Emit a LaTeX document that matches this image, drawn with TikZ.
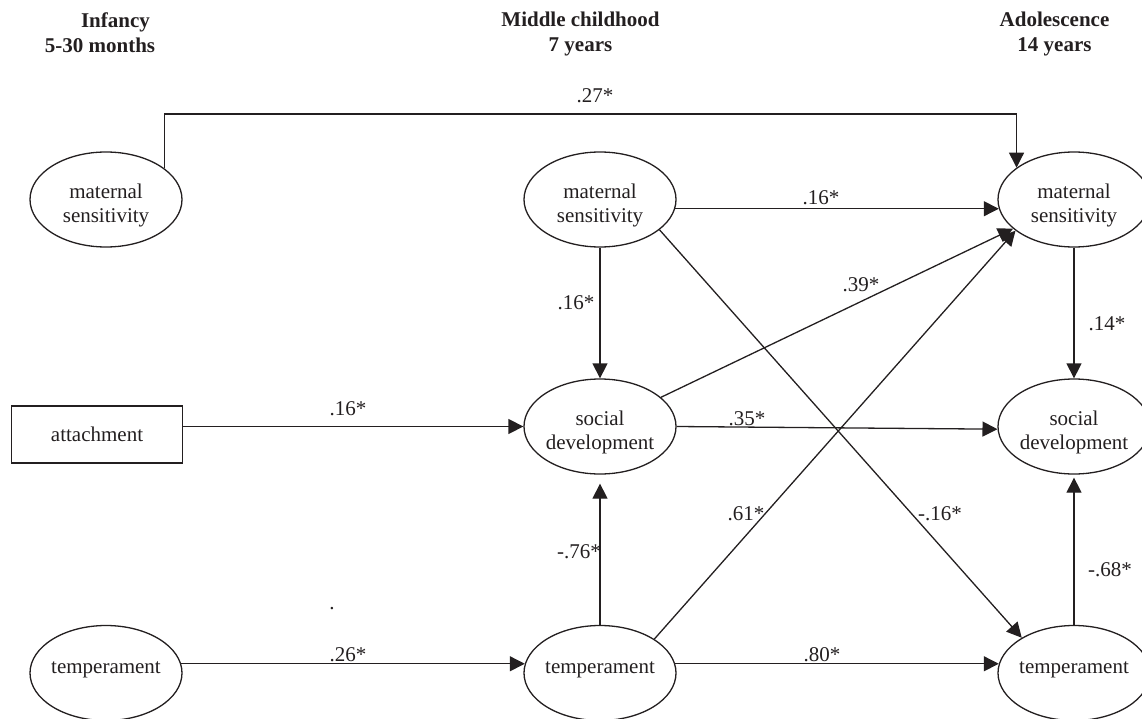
\documentclass[tikz,border=0pt]{standalone}
\usepackage{fontspec}
\setmainfont{Liberation Serif}
\usetikzlibrary{shapes.geometric,arrows.meta}
\definecolor{ink}{RGB}{35,31,32}
\begin{document}
\begin{tikzpicture}[x=1pt,y=-1pt,
  ell/.style={draw=ink, line width=1.3pt, ellipse, minimum width=152pt, minimum height=95pt, inner sep=0pt},
  rectbox/.style={draw=ink, line width=1.3pt, rectangle, minimum width=171pt, minimum height=57pt, inner sep=0pt},
  txt/.style={text=ink, font=\fontsize{21}{24}\selectfont, align=center, inner sep=0pt},
  hdr/.style={text=ink, font=\fontsize{21}{26}\selectfont\bfseries, inner sep=0pt, anchor=base},
  lbl/.style={text=ink, font=\fontsize{21}{24}\selectfont, inner sep=0pt},
  arr/.style={draw=ink, line width=1.3pt, -{Triangle[length=15pt,width=15pt]}},
  ln/.style={draw=ink, line width=1.3pt}]
\useasboundingbox (0,0) rectangle (1142,719);

% headers
\node[hdr] (h1a) at (115.5,28) {Infancy};
\node[hdr] (h1b) at (100,53) {5-30 months};
\node[hdr] (h2a) at (580.5,27) {Middle childhood};
\node[hdr] (h2b) at (580.5,52) {7 years};
\node[hdr] (h3a) at (1054.5,27) {Adolescence};
\node[hdr] (h3b) at (1054.5,52) {14 years};

% nodes
\node[ell] (mi) at (106,199.5) {};
\node[ell] (mm) at (600,199.5) {};
\node[ell] (mr) at (1074,199.5) {};
\node[rectbox] (att) at (97,434.5) {};
\node[ell] (sm) at (600,426.5) {};
\node[ell] (sr) at (1074,426.5) {};
\node[ell] (tl) at (106,673) {};
\node[ell] (tm) at (600,673) {};
\node[ell] (tr) at (1074,673) {};

% node texts
\node[txt] (mit) at (106,205.5) {maternal\\sensitivity};
\node[txt] (mmt) at (600,205.5) {maternal\\sensitivity};
\node[txt] (mrt) at (1074,205.5) {maternal\\sensitivity};
\node[txt, anchor=base] (attt) at (97,441) {attachment};
\node[txt] (smt) at (600,432) {social\\development};
\node[txt] (srt) at (1074,432) {social\\development};
\node[txt, anchor=base] (tlt) at (106,673) {temperament};
\node[txt, anchor=base] (tmt) at (600,673) {temperament};
\node[txt, anchor=base] (trt) at (1074,673) {temperament};

% connectors
\coordinate (k) at (0,114);
\draw[arr] (mi.28) -- (mi.28 |- k) -- (mr.151 |- k) -- (mr.151);
\draw[arr] (mm.-7) -- (mr.187);
\draw[arr] (mm.south) -- (sm.north);
\draw[arr] (sm) -- (mr);
\draw[arr] (mm.-27) -- (tr.146);
\draw[arr] (mr.south) -- (sr.north);
\draw[arr] (att.east |- sm.center) -- (sm.west);
\draw[arr] (sm.0) -- (sr.182);
\draw[arr, shorten >=9pt] (tm.north) -- (sm.south);
\draw[arr] (tm.32) -- (mr.208);
\draw[arr, shorten >=3pt] (tr.north) -- (sr.south);
\draw[arr] (tl.7) -- (tm.173);
\draw[arr] (tm.7) -- (tr.173);

% labels
\node[lbl] (l1) at (595,96) {.27*};
\node[lbl] (l2) at (821,198) {.16*};
\node[lbl] (l3) at (576,303) {.16*};
\node[lbl] (l4) at (861,285) {.39*};
\node[lbl] (l5) at (1107,324) {.14*};
\node[lbl] (l6) at (348,409) {.16*};
\node[lbl] (l7) at (747,419) {.35*};
\node[lbl] (l8) at (746,514) {.61*};
\node[lbl] (l9) at (579,552) {-.76*};
\node[lbl] (l10) at (940,514) {-.16*};
\node[lbl] (l11) at (1110,570) {-.68*};
\node[lbl] (l12) at (822,655) {.80*};
\node[lbl] (l13) at (348,655) {.26*};
\node[lbl, anchor=base] (dot) at (332,609) {.};
\end{tikzpicture}
\end{document}
